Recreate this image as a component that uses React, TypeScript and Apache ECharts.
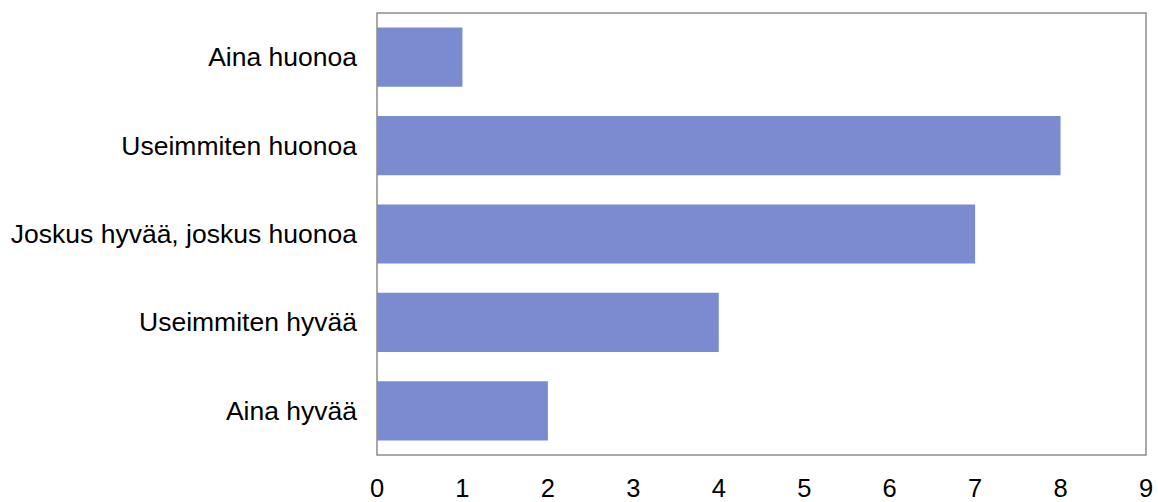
import React, { useEffect, useRef } from "react";
import * as echarts from "echarts";

const categories = [
  "Aina hyvää",
  "Useimmiten hyvää",
  "Joskus hyvää, joskus huonoa",
  "Useimmiten huonoa",
  "Aina huonoa",
];
const values = [2, 4, 7, 8, 1];
const xMin = 0;
const xMax = 9;
const xInterval = 1;

export default function App() {
  const ref = useRef<HTMLDivElement>(null);
  useEffect(() => {
    if (!ref.current) return;
    const chart = echarts.init(ref.current, null, { renderer: "svg" });
    chart.setOption({
      animation: false,
      backgroundColor: "#ffffff",
      grid: {
        left: 377,
        right: 12,
        top: 13,
        bottom: 47,
        show: true,
        borderColor: "#8c8c8c",
        borderWidth: 1.5,
        backgroundColor: "transparent",
      },
      xAxis: {
        type: "value",
        min: xMin,
        max: xMax,
        interval: xInterval,
        axisLine: { show: false },
        axisTick: { show: false },
        splitLine: { show: false },
        axisLabel: {
          color: "#000",
          fontFamily: "Liberation Sans, Arial, sans-serif",
          fontSize: 25.5,
          margin: 20,
        },
      },
      yAxis: {
        type: "category",
        data: categories,
        axisLine: { show: false },
        axisTick: { show: false },
        splitLine: { show: false },
        axisLabel: {
          color: "#000",
          fontFamily: "Liberation Sans, Arial, sans-serif",
          fontSize: 26.5,
          margin: 20,
        },
      },
      series: [
        {
          type: "bar",
          data: values,
          barWidth: "67%",
          itemStyle: { color: "#7b8bcf" },
        },
      ],
    });
    return () => chart.dispose();
  }, []);
  return (
    <div
      ref={ref}
      style={{ position: "fixed", left: 0, top: 0, width: 1158, height: 502 }}
    />
  );
}
